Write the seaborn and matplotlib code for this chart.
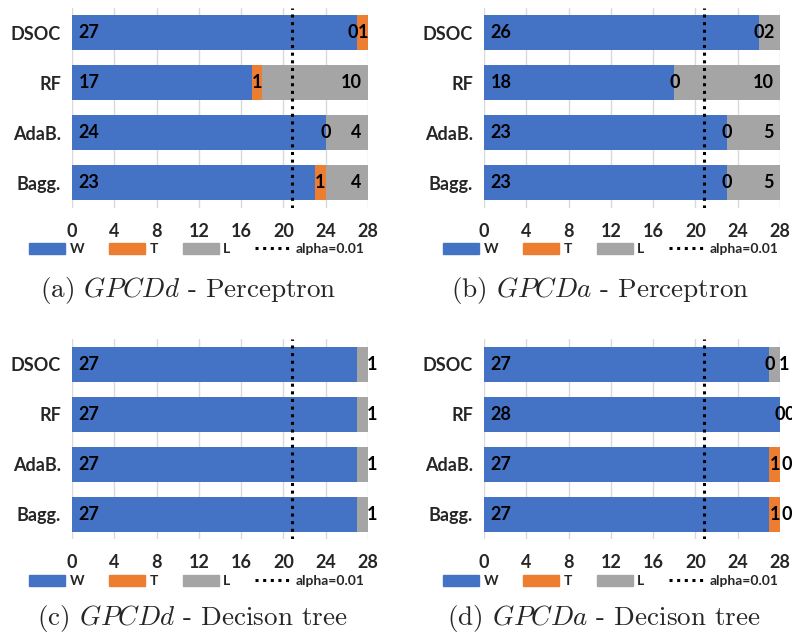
import numpy as np
import pandas as pd
import matplotlib.pyplot as plt
import seaborn as sns
from matplotlib.patches import Patch
from matplotlib.lines import Line2D

# Win / Tie / Loss counts per ensemble method
methods = ["DSOC", "RF", "AdaB.", "Bagg."]

a_W = [27, 17, 24, 23]
a_T = [1, 1, 0, 1]
a_L = [0, 10, 4, 4]

b_W = [26, 18, 23, 23]
b_T = [0, 0, 0, 0]
b_L = [2, 10, 5, 5]

c_W = [27, 27, 27, 27]
c_T = [0, 0, 0, 0]
c_L = [1, 1, 1, 1]

d_W = [27, 28, 27, 27]
d_T = [0, 0, 1, 1]
d_L = [1, 0, 0, 0]

alpha_line = 20.8
x_ticks = [0, 4, 8, 12, 16, 20, 24, 28]

captions = [r"(a) $GPCDd$ - Perceptron", r"(b) $GPCDa$ - Perceptron",
            r"(c) $GPCDd$ - Decison tree", r"(d) $GPCDa$ - Decison tree"]

col_w, col_t, col_l = "#4472C4", "#ED7D31", "#A5A5A5"

sns.set_style("white")
plt.rcParams['font.family'] = ['Lato', 'DejaVu Sans']
plt.rcParams['mathtext.fontset'] = 'cm'
WEIGHT = "bold"

fig = plt.figure(figsize=(7.92, 6.37), dpi=100)
W_PX, H_PX = 792, 637

def add_ax(left_px, top_px):
    return fig.add_axes([left_px / W_PX, 1 - (top_px + 200) / H_PX, 296 / W_PX, 200 / H_PX])

panels = [
    (a_W, a_T, a_L, add_ax(72, 7.5), "inside", True),
    (b_W, b_T, b_L, add_ax(484, 7.5), "inside", True),
    (c_W, c_T, c_L, add_ax(72, 339), "outside", False),
    (d_W, d_T, d_L, add_ax(484, 339), "outside", True),
]

for W, T, L, ax, small_mode, show_zero_t in panels:
    df = pd.DataFrame({"method": methods, "W": W, "T": T, "L": L})
    df["WT"] = df["W"] + df["T"]
    df["WTL"] = df["WT"] + df["L"]
    # stacked bars drawn as overlapping cumulative totals
    sns.barplot(data=df, y="method", x="WTL", color=col_l, width=0.7, ax=ax, linewidth=0, saturation=1)
    sns.barplot(data=df, y="method", x="WT", color=col_t, width=0.7, ax=ax, linewidth=0, saturation=1)
    sns.barplot(data=df, y="method", x="W", color=col_w, width=0.7, ax=ax, linewidth=0, saturation=1)

    kw = dict(fontsize=13, fontweight=WEIGHT, va="center", color="black")
    for i, r in df.iterrows():
        ax.text(0.6, i, str(r["W"]), ha="left", **kw)
        t_c = r["W"] + r["T"] / 2
        if r["T"] > 0 or show_zero_t:
            ax.text(t_c, i, str(r["T"]), ha="center", **kw)
        if r["L"] >= 2:
            ax.text(27.4, i, str(r["L"]), ha="right", **kw)
        elif small_mode == "inside":
            ax.text(t_c - 0.4, i, str(r["L"]), ha="right", **kw)
        else:
            x_l = max(r["WTL"] - 0.15, t_c + 0.42 + 0.25 * r["T"])
            ax.text(x_l, i, str(r["L"]), ha="left", clip_on=False, **kw)

    ax.axvline(alpha_line, color="black", linestyle=(0, (1, 1.5)), linewidth=2.2, zorder=5)
    ax.set_xlim(0, 28)
    ax.set_ylim(3.5, -0.5)
    ax.set_xticks(x_ticks)
    ax.grid(axis="x", color="#D9D9D9", linewidth=1)
    ax.set_axisbelow(True)
    for s in ax.spines.values():
        s.set_visible(False)
    ax.set_xlabel("")
    ax.set_ylabel("")
    ax.tick_params(axis="x", length=0, pad=11, labelsize=13)
    ax.tick_params(axis="y", length=0, pad=8, labelsize=13)
    for lab in ax.get_xticklabels() + ax.get_yticklabels():
        lab.set_fontweight(WEIGHT)

handles = [Patch(color=col_w, label="W"), Patch(color=col_t, label="T"), Patch(color=col_l, label="L"),
           Line2D([0], [0], color="black", linestyle=(0, (1, 1.5)), linewidth=2.2, label="alpha=0.01")]

legend_pos = [(197, 249), (611, 249), (197, 581), (611, 581)]
cap_pos = [(188, 291), (600, 291), (192, 619), (604, 619)]
for (lx, ly), (cx, cy), cap in zip(legend_pos, cap_pos, captions):
    fig.legend(handles=handles, loc="center", bbox_to_anchor=(lx / W_PX, 1 - ly / H_PX), ncol=4,
               frameon=False, handlelength=2.6, handleheight=0.8, handletextpad=0.3, columnspacing=1.8,
               prop={"weight": WEIGHT, "size": 10})
    fig.text(cx / W_PX, 1 - cy / H_PX, cap, ha="center", va="center", fontsize=19.5, family="cmr10")

plt.savefig("out.png", dpi=100)
